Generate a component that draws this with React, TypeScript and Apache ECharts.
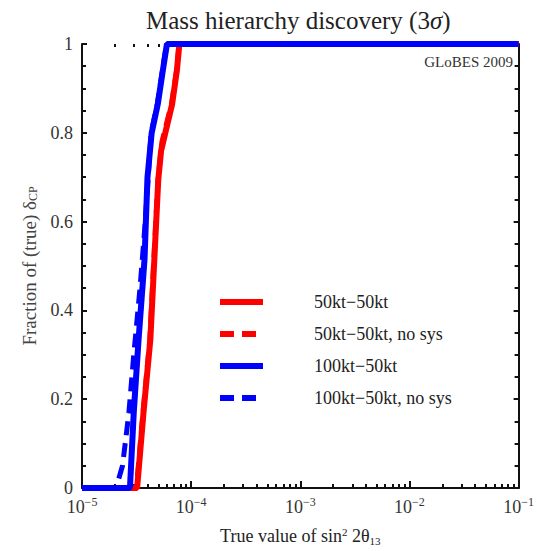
import React, { useEffect, useRef } from 'react';
import * as echarts from 'echarts';

// ---- data ----
const seriesNames = ['50kt−50kt', '50kt−50kt, no sys', '100kt−50kt', '100kt−50kt, no sys'];

const redSolidX = [1e-5, 3.2e-5, 3.66e-5, 4.23e-5, 4.6e-5, 5.0e-5, 5.31e-5, 5.8e-5, 6.7e-5, 7.4e-5, 7.8e-5, 1e-1];
const redSolidY = [0, 0, 0.17, 0.335, 0.515, 0.695, 0.76, 0.8, 0.865, 0.94, 1, 1];

const redDashX = [1e-5, 3.15e-5, 3.62e-5, 4.18e-5, 4.55e-5, 4.97e-5, 5.4e-5, 6.6e-5, 7.35e-5, 7.75e-5, 1e-1];
const redDashY = [0, 0, 0.17, 0.335, 0.515, 0.695, 0.78, 0.865, 0.94, 1, 1];

const blueSolidX = [1e-5, 2.75e-5, 2.98e-5, 3.3e-5, 3.74e-5, 3.98e-5, 4.35e-5, 4.95e-5, 5.5e-5, 6.0e-5, 1e-1];
const blueSolidY = [0, 0, 0.17, 0.335, 0.515, 0.7, 0.8, 0.865, 0.94, 1, 1];

const blueDashX = [1e-5, 2.05e-5, 2.35e-5, 2.69e-5, 2.98e-5, 3.4e-5, 3.8e-5, 4.3e-5, 4.9e-5, 5.45e-5, 5.95e-5, 1e-1];
const blueDashY = [0, 0, 0.05, 0.17, 0.3, 0.45, 0.6, 0.8, 0.865, 0.94, 1, 1];

const xMin = 1e-5;
const xMax = 1e-1;
const decadeExps = [-5, -4, -3, -2, -1];
const minorMultipliers = [2, 3, 4, 5, 6, 7, 8, 9];
const yTicks = [0, 0.2, 0.4, 0.6, 0.8, 1];

const FONT = "'Liberation Serif', 'DejaVu Serif', serif";

function pairs(xs: number[], ys: number[]) {
  return xs.map((x, i) => [x, ys[i]]);
}

export default function App() {
  const ref = useRef<HTMLDivElement>(null);

  useEffect(() => {
    if (!ref.current) return;
    const chart = echarts.init(ref.current, undefined, { renderer: 'svg' });

    const minorLogs: number[] = [];
    decadeExps.slice(0, -1).forEach((d) => {
      minorMultipliers.forEach((m) => minorLogs.push(d + Math.log10(m)));
    });
    const allLogs = [...decadeExps, ...minorLogs];

    const red = '#ff0000';
    const blue = '#0000ff';

    const mkLine = (name: string, xs: number[], ys: number[], color: string, dashed: boolean) => ({
      name,
      type: 'line',
      xAxisIndex: 0,
      yAxisIndex: 0,
      data: pairs(xs, ys),
      symbol: 'none',
      lineStyle: { color, width: dashed ? 5 : 6, type: dashed ? [14, 8] : 'solid' },
      itemStyle: { color },
      silent: true,
    });

    chart.setOption({
      animation: false,
      title: {
        text: '{n|Mass hierarchy discovery (3}{i|σ}{n|)}',
        left: 141,
        top: 3,
        textStyle: {
          rich: {
            n: { fontFamily: FONT, fontSize: 25, color: '#222', fontWeight: 'normal' },
            i: { fontFamily: FONT, fontSize: 25, color: '#222', fontStyle: 'italic', fontWeight: 'normal' },
          },
        },
      },
      grid: { left: 82, right: 8, top: 44, bottom: 62 },
      legend: {
        orient: 'vertical',
        left: 212,
        top: 288,
        itemWidth: 43,
        itemHeight: 10,
        itemGap: 14,
        data: seriesNames,
        lineStyle: { width: 6 },
        itemStyle: { opacity: 0 },
        textStyle: {
          fontFamily: FONT,
          fontSize: 18,
          lineHeight: 18,
          color: '#222',
          padding: [0, 0, 0, 46],
        },
      },
      graphic: [
        {
          type: 'text',
          right: 24,
          top: 54,
          style: { text: 'GLoBES 2009', font: `15px ${FONT}`, fill: '#333' },
        },
      ],
      xAxis: [
        {
          type: 'log',
          logBase: 10,
          min: xMin,
          max: xMax,
          position: 'bottom',
          name: '{n|True value of sin}{s|2}{n| 2θ}{b|13}',
          nameLocation: 'middle',
          nameGap: 38,
          nameTextStyle: {
            rich: {
              n: { fontFamily: FONT, fontSize: 18, color: '#222', lineHeight: 20 },
              s: { fontFamily: FONT, fontSize: 11, color: '#222', verticalAlign: 'top', lineHeight: 11 },
              b: { fontFamily: FONT, fontSize: 11, color: '#222', verticalAlign: 'bottom', lineHeight: 11 },
            },
          },
          axisLine: { show: true, lineStyle: { color: '#111', width: 2 } },
          axisTick: { show: true, inside: true, length: 7, lineStyle: { color: '#111', width: 2 } },
          splitLine: { show: false },
          axisLabel: {
            margin: 8,
            formatter: (v: number) => `{b|10}{s|−${-Math.round(Math.log10(v))}}`,
            rich: {
              b: { fontFamily: FONT, fontSize: 18, color: '#333', lineHeight: 22 },
              s: { fontFamily: FONT, fontSize: 12, color: '#333', verticalAlign: 'top', lineHeight: 12 },
            },
          },
        },
        {
          type: 'value',
          min: -5,
          max: -1,
          position: 'bottom',
          axisLine: { show: false },
          axisLabel: { show: false },
          splitLine: { show: false },
          axisTick: {
            show: true,
            inside: true,
            length: 4,
            customValues: minorLogs,
            lineStyle: { color: '#111', width: 2 },
          },
        },
        {
          type: 'value',
          min: -5,
          max: -1,
          position: 'top',
          axisLine: { show: false },
          axisLabel: { show: false },
          splitLine: { show: false },
          axisTick: {
            show: true,
            inside: true,
            length: 3,
            customValues: allLogs,
            lineStyle: { color: '#111', width: 2 },
          },
        },
      ],
      yAxis: [
        {
          type: 'value',
          min: 0,
          max: 1,
          interval: 0.2,
          position: 'left',
          name: '{n|Fraction of (true) δ}{b|CP}',
          nameLocation: 'middle',
          nameRotate: 90,
          nameGap: 43,
          nameTextStyle: {
            rich: {
              n: { fontFamily: FONT, fontSize: 19, color: '#444', lineHeight: 20 },
              b: { fontFamily: FONT, fontSize: 12, color: '#444', verticalAlign: 'bottom', lineHeight: 12 },
            },
          },
          axisLine: { show: true, lineStyle: { color: '#111', width: 2 } },
          axisTick: { show: true, inside: true, length: 5, lineStyle: { color: '#111', width: 2 } },
          minorTick: { show: true, splitNumber: 4, length: 4, lineStyle: { color: '#111', width: 2 } },
          splitLine: { show: false },
          axisLabel: {
            margin: 9,
            fontFamily: FONT,
            fontSize: 18,
            color: '#333',
            customValues: yTicks,
            formatter: (v: number) => (v === 0 ? '0' : v === 1 ? '1' : v.toFixed(1)),
          },
        },
        {
          type: 'value',
          min: 0,
          max: 1,
          interval: 0.2,
          position: 'right',
          axisLine: { show: true, lineStyle: { color: '#111', width: 2 } },
          axisTick: { show: true, inside: true, length: 5, lineStyle: { color: '#111', width: 2 } },
          minorTick: { show: true, splitNumber: 4, length: 4, lineStyle: { color: '#111', width: 2 } },
          splitLine: { show: false },
          axisLabel: { show: false },
        },
      ],
      series: [
        mkLine(seriesNames[0], redSolidX, redSolidY, red, false),
        mkLine(seriesNames[1], redDashX, redDashY, red, true),
        mkLine(seriesNames[2], blueSolidX, blueSolidY, blue, false),
        mkLine(seriesNames[3], blueDashX, blueDashY, blue, true),
      ],
    });

    return () => chart.dispose();
  }, []);

  return (
    <div
      ref={ref}
      style={{ position: 'absolute', left: 0, top: 0, width: 537, height: 551, background: '#fff' }}
    />
  );
}
